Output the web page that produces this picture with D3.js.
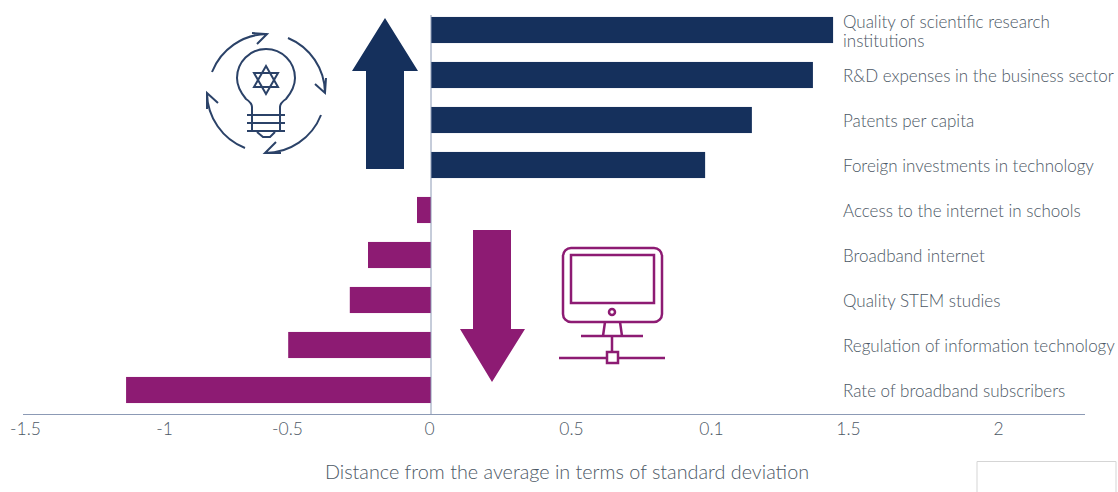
<!DOCTYPE html>
<html>
<head>
<meta charset="utf-8">
<script src="https://cdn.jsdelivr.net/npm/d3@7"></script>
<style>
  html, body { margin: 0; padding: 0; background: #fff; }
  svg { display: block; }
  text { font-family: Lato, sans-serif; font-weight: 300; fill: #4c5865; }
  .axis path, .axis line { stroke: #8c9ab5; }
</style>
</head>
<body>
<div id="chart"></div>
<script>
var categories = [
  ["Quality of scientific research", "institutions"],
  ["R&D expenses in the business sector"],
  ["Patents per capita"],
  ["Foreign investments in technology"],
  ["Access to the internet in schools"],
  ["Broadband internet"],
  ["Quality STEM studies"],
  ["Regulation of information technology"],
  ["Rate of broadband subscribers"]
];
var values = [1.436, 1.364, 1.146, 0.979, -0.05, -0.225, -0.29, -0.51, -1.089];
var tickValues = [-1.5, -1, -0.5, 0, 0.5, 1, 1.5, 2];
var tickLabels = ["-1.5", "-1", "-0.5", "0", "0.5", "0.1", "1.5", "2"];
var axisTitle = "Distance from the average in terms of standard deviation";

var navy = "#15305c", purple = "#8d1b73";

var width = 1118, height = 492;

var svg = d3.select("#chart").append("svg")
  .attr("width", width)
  .attr("height", height);

// 280px per unit, zero sits at x=431
var x = d3.scaleLinear().domain([-1.5, 2]).range([11, 991]);
var y = d3.scaleBand().domain(d3.range(values.length)).range([7.5, 412.5]).paddingInner(0.42).paddingOuter(0.21);

svg.selectAll("rect.bar")
  .data(values)
  .enter()
  .append("rect")
  .attr("class", "bar")
  .attr("x", function (d) { return x(Math.min(0, d)); })
  .attr("y", function (d, i) { return y(i); })
  .attr("width", function (d) { return Math.abs(x(d) - x(0)); })
  .attr("height", y.bandwidth())
  .attr("fill", function (d) { return d > 0 ? navy : purple; });

// zero line
svg.append("line")
  .attr("x1", x(0)).attr("x2", x(0))
  .attr("y1", 15).attr("y2", 415)
  .attr("stroke", "#8c9ab5");

// the tick labels are not evenly spaced, so each gets its own shift
var labelShift = [14, 13, -4, -2, 0, 0, -3, 7];

var axis = d3.axisBottom(x)
  .tickValues(tickValues)
  .tickSize(0)
  .tickPadding(8)
  .tickFormat(function (d, i) { return tickLabels[i]; });

var axisG = svg.append("g")
  .attr("class", "axis")
  .attr("transform", "translate(0,414.5)")
  .call(axis);

axisG.select(".domain").attr("d", "M23,0H1085");
axisG.selectAll("text")
  .attr("font-size", 17.5)
  .attr("dx", function (d, i) { return labelShift[i]; })
  .style("font-family", "Lato, sans-serif")
  .style("fill", "#4c5865");

// category labels to the right of the bars
var labels = svg.selectAll("text.cat")
  .data(categories)
  .enter()
  .append("text")
  .attr("class", "cat")
  .attr("font-size", 17)
  .attr("y", function (d, i) { return y(i) + y.bandwidth() / 2 + 7; });

labels.selectAll("tspan")
  .data(function (d) { return d; })
  .enter()
  .append("tspan")
  .attr("x", 843)
  .attr("dy", function (d, i, n) {
    if (n.length == 1) return 0;
    return i == 0 ? -9.5 : 19;
  })
  .text(function (d) { return d; });

svg.append("text")
  .attr("x", 567)
  .attr("y", 479)
  .attr("text-anchor", "middle")
  .attr("font-size", 19.8)
  .text(axisTitle);

// big direction arrows
svg.append("path")
  .attr("d", "M385,18L418,71H404V169H366V71H352Z")
  .attr("fill", navy);
svg.append("path")
  .attr("d", "M473,230H511V329H525L492,382L460,329H473Z")
  .attr("fill", purple);

// lightbulb icon
var bulb = svg.append("g")
  .attr("fill", "none")
  .attr("stroke", "#2b4268")
  .attr("stroke-width", 2);

bulb.append("path").attr("d", "M252,131V107C252,103 249,101 246,99C241,93 237,87 237,78A29,29 0 1 1 295,78C295,87 291,93 286,99C283,101 280,103 280,107V131");
bulb.append("path").attr("d", "M247,115H285M247,123H285M247,131H285");
bulb.append("path").attr("d", "M257,132L263,137H270L275,132");
bulb.append("path").attr("d", "M266,66L278,87H254Z");
bulb.append("path").attr("d", "M266,94L254,73H278Z");

// ring of arrows around the bulb
bulb.append("path").attr("d", "M212,72A60,60 0 0 1 267,34M257,44L267,34L252,33");
bulb.append("path").attr("d", "M288,38A60,60 0 0 1 325,93M315,84L325,93L326,78");
bulb.append("path").attr("d", "M321,115A60,60 0 0 1 265,153M276,142L265,153L281,153");
bulb.append("path").attr("d", "M245,148A60,60 0 0 1 207,93M218,103L207,93L207,109");

// monitor icon
var monitor = svg.append("g")
  .attr("fill", "none")
  .attr("stroke", purple)
  .attr("stroke-width", 2.5);

monitor.append("rect").attr("x", 563).attr("y", 248).attr("width", 99).attr("height", 74).attr("rx", 8);
monitor.append("rect").attr("x", 571).attr("y", 255).attr("width", 83).attr("height", 48);
monitor.append("circle").attr("cx", 612).attr("cy", 312).attr("r", 3);
monitor.append("path").attr("d", "M605,322L603,336M620,322L622,336");
monitor.append("path").attr("d", "M581,336H643M612,336V352M559,358H607M618,358H665");
monitor.append("rect").attr("x", 607).attr("y", 352).attr("width", 11).attr("height", 11);

// empty box at the bottom right corner
svg.append("path")
  .attr("d", "M977,492V461.5H1116V492")
  .attr("fill", "none")
  .attr("stroke", "#d5d5d5");
</script>
</body>
</html>
